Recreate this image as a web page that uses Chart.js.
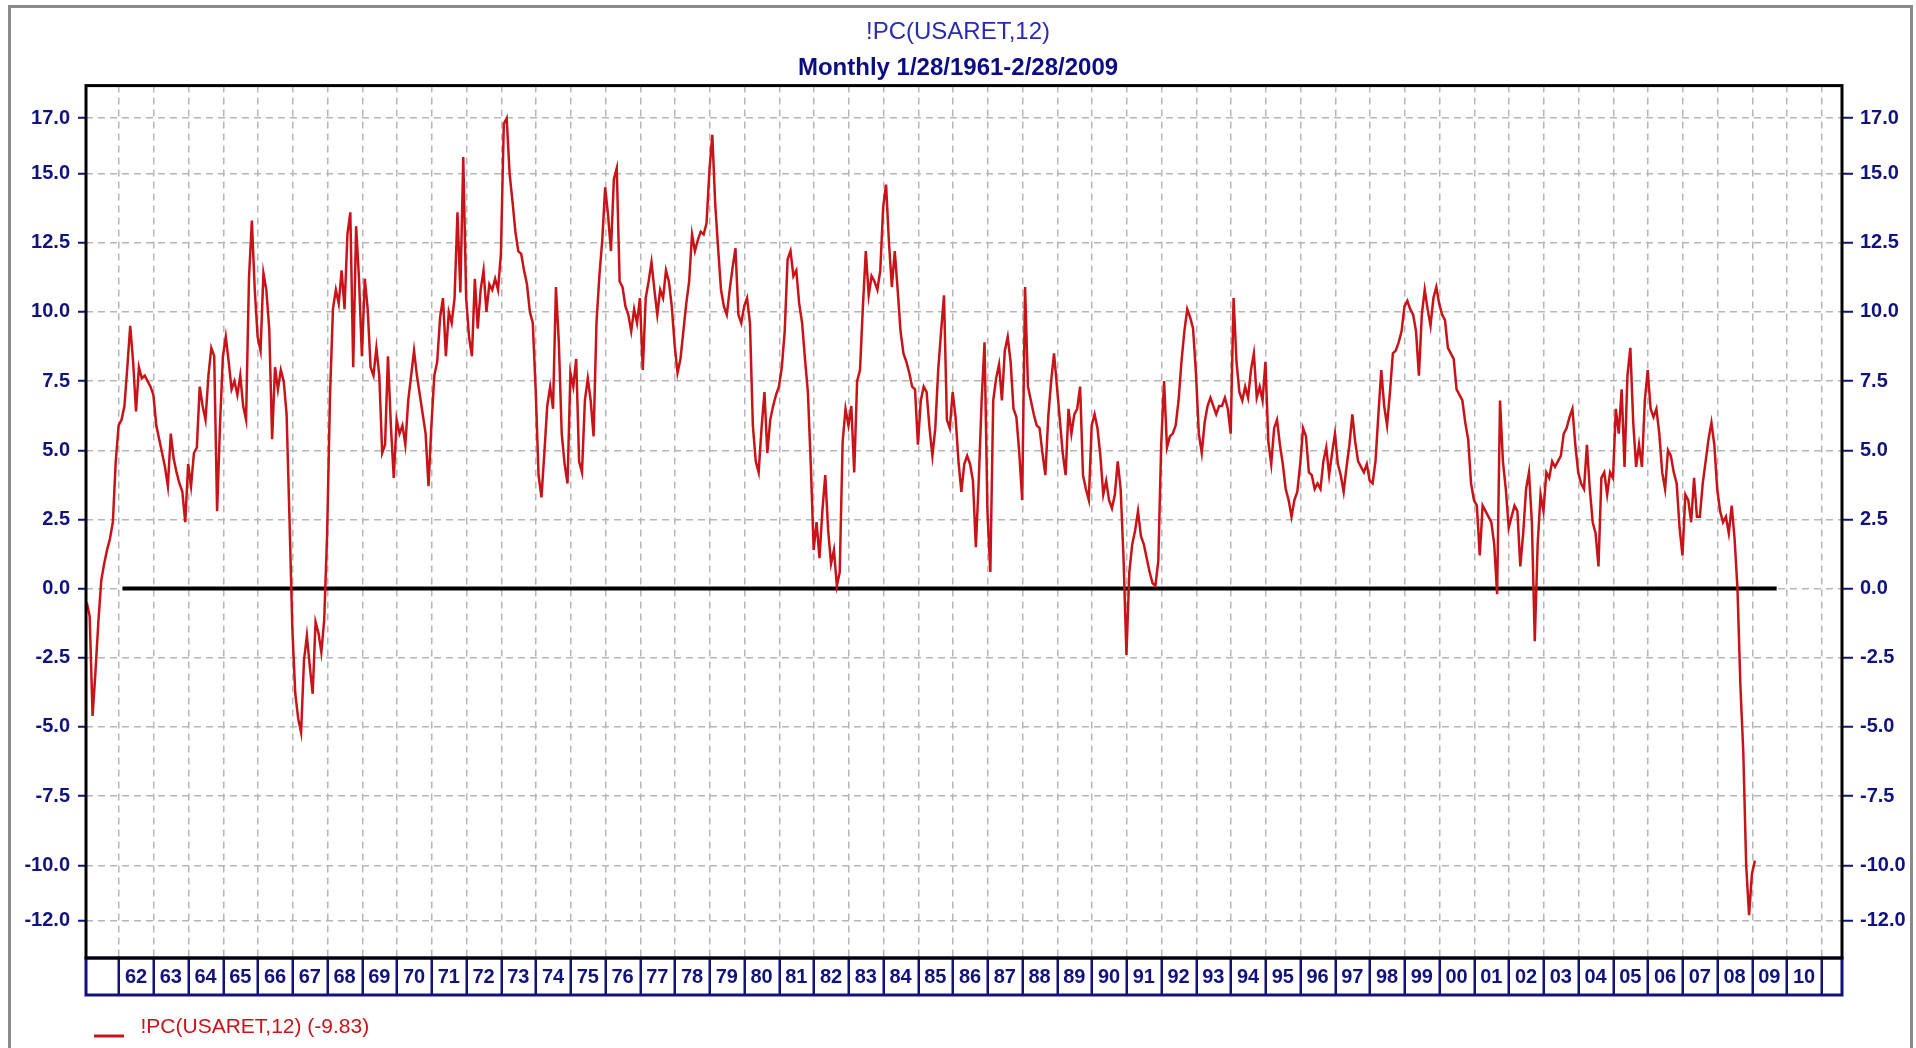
<!DOCTYPE html>
<html>
<head>
<meta charset="utf-8">
<title>!PC(USARET,12)</title>
<script src="https://cdn.jsdelivr.net/npm/chart.js@4.4.1/dist/chart.umd.min.js"></script>
<style>
  html, body { margin: 0; padding: 0; background: #fff; overflow: hidden; }
  #wrap { position: relative; width: 1916px; height: 1048px; }
</style>
</head>
<body>
<div id="wrap"><canvas id="chart" width="1916" height="1048"></canvas></div>
<script>
// ─── DONNÉES ──────────────────────────────────────────────────────────────
const seriesName = '!PC(USARET,12)';
const lastValue = -9.83;
const startYear = 1961;   // premier point : 28 janvier 1961, puis mensuel
const startDay = 28;

// variation sur 12 mois (%), un point par mois
const pct1960s = [
  -0.5, -1.0, -4.6, -3.0, -1.2, 0.3, 0.9, 1.4, 1.8, 2.4, 4.6, 5.9,
  6.1, 6.6, 8.0, 9.5, 8.2, 6.4, 8.0, 7.6, 7.7, 7.5, 7.3, 7.0,
  5.9, 5.4, 4.9, 4.4, 3.7, 5.6, 4.7, 4.2, 3.8, 3.5, 2.4, 4.5,
  3.7, 4.9, 5.1, 7.3, 6.6, 6.1, 7.7, 8.7, 8.4, 2.8, 5.9, 8.4,
  9.1, 8.2, 7.2, 7.5, 7.0, 7.7, 6.6, 6.1, 11.2, 13.3, 10.8, 9.1,
  8.6, 11.4, 10.8, 9.4, 5.4, 8.0, 7.2, 7.9, 7.5, 6.3, 2.5, -1.5,
  -3.8, -4.7, -5.2, -2.6, -1.7, -2.8, -3.8, -1.2, -1.6, -2.3, -1.1, 2.0,
  7.0, 10.1, 10.8, 10.3, 11.5, 10.1, 12.8, 13.6, 8.0, 13.1, 11.2, 8.4,
  11.2, 10.1, 8.0, 7.7, 8.7, 7.7, 4.9, 5.2, 8.4, 5.9, 4.0, 6.1
];
const pct1970s = [
  5.6, 5.9, 5.2, 6.8, 7.7, 8.6, 7.7, 7.0, 6.3, 5.6, 3.7, 5.9,
  7.7, 8.2, 9.8, 10.5, 8.4, 10.0, 9.6, 10.5, 13.6, 10.7, 15.6, 10.5,
  9.1, 8.4, 11.2, 9.4, 10.8, 11.5, 10.0, 11.0, 10.8, 11.2, 10.8, 12.1,
  16.8, 17.0, 15.0, 14.0, 12.9, 12.2, 12.1, 11.5, 11.0, 10.0, 9.6, 7.2,
  4.1, 3.3, 4.9, 6.6, 7.3, 6.5, 10.9, 8.9, 5.6, 4.5, 3.8, 7.8,
  7.3, 8.3, 4.6, 4.2, 6.8, 7.6, 6.8, 5.5, 9.6, 11.3, 12.6, 14.5,
  13.5, 12.2, 14.8, 15.2, 11.1, 10.9, 10.2, 9.9, 9.3, 10.1, 9.6, 10.5,
  7.9, 10.5, 11.1, 11.8, 10.8, 9.9, 10.8, 10.5, 11.5, 11.1, 10.2, 8.8,
  7.8, 8.3, 9.3, 10.3, 11.1, 12.8, 12.2, 12.6, 12.9, 12.8, 13.2, 15.1,
  16.4, 13.9, 12.3, 10.8, 10.2, 9.9, 10.8, 11.6, 12.3, 9.9, 9.6, 10.2
];
const pct1980s = [
  10.5, 9.6, 5.9, 4.6, 4.2, 5.8, 7.1, 4.9, 6.1, 6.6, 7.0, 7.3,
  8.0, 9.3, 11.9, 12.2, 11.3, 11.5, 10.3, 9.6, 8.3, 7.1, 4.5, 1.4,
  2.4, 1.1, 2.8, 4.1, 2.1, 0.9, 1.4, 0.1, 0.6, 5.3, 6.5, 5.9,
  6.6, 4.2, 7.5, 7.9, 10.2, 12.2, 10.6, 11.3, 11.1, 10.8, 11.5, 13.8,
  14.6, 12.5, 10.9, 12.2, 10.8, 9.3, 8.5, 8.2, 7.8, 7.3, 7.2, 5.2,
  6.8, 7.3, 7.1, 5.8, 4.8, 5.8, 7.9, 9.3, 10.6, 6.1, 5.8, 7.1,
  6.2, 4.6, 3.5, 4.5, 4.8, 4.5, 3.9, 1.5, 3.9, 6.8, 8.9, 2.8,
  0.6, 6.8, 7.6, 8.1, 6.8, 8.6, 9.1, 8.2, 6.5, 6.2, 4.9, 3.2,
  10.9, 7.3, 6.8, 6.3, 5.9, 5.8, 4.9, 4.1, 6.2, 7.5, 8.5, 7.3,
  6.1, 4.9, 4.1, 6.5, 5.6, 6.3, 6.5, 7.3, 4.1, 3.6, 3.2, 5.9
];
const pct1990s = [
  6.3, 5.8, 4.8, 3.4, 3.9, 3.2, 2.9, 3.4, 4.6, 3.6, 1.1, -2.4,
  0.6, 1.6, 2.1, 2.8, 1.9, 1.6, 1.1, 0.6, 0.2, 0.1, 1.0, 5.2,
  7.5, 5.1, 5.5, 5.6, 5.9, 6.8, 8.2, 9.3, 10.1, 9.8, 9.4, 7.8,
  5.6, 4.9, 6.0, 6.6, 6.9, 6.6, 6.3, 6.6, 6.6, 6.9, 6.5, 5.6,
  10.5, 8.2, 7.1, 6.8, 7.3, 6.9, 7.9, 8.5, 6.9, 7.3, 6.8, 8.2,
  5.3, 4.5, 5.8, 6.1, 5.2, 4.5, 3.6, 3.2, 2.6, 3.2, 3.5, 4.5,
  5.8, 5.5, 4.2, 4.1, 3.6, 3.8, 3.6, 4.6, 5.1, 4.1, 4.9, 5.6,
  4.5, 4.1, 3.5, 4.4, 5.2, 6.3, 5.3, 4.6, 4.4, 4.2, 4.5, 3.9,
  3.8, 4.6, 6.3, 7.9, 6.6, 5.9, 7.1, 8.5, 8.6, 8.9, 9.3, 10.2,
  10.4, 10.1, 9.9, 9.3, 7.7, 9.9, 10.8, 10.1, 9.5, 10.5, 10.9, 10.3
];
const pct2000s = [
  9.9, 9.7, 8.7, 8.5, 8.3, 7.2, 7.0, 6.8, 6.0, 5.4, 3.8, 3.2,
  3.0, 1.2, 3.0, 2.8, 2.6, 2.4, 1.6, -0.2, 6.8, 4.6, 3.6, 2.2,
  2.6, 3.0, 2.8, 0.8, 2.0, 3.6, 4.2, 2.4, -1.9, 1.6, 3.4, 2.8,
  4.2, 4.0, 4.6, 4.4, 4.6, 4.8, 5.6, 5.8, 6.2, 6.5, 5.2, 4.2,
  3.8, 3.6, 5.2, 3.6, 2.4, 2.0, 0.8, 4.0, 4.2, 3.4, 4.2, 4.0,
  6.5, 5.6, 7.2, 4.4, 7.7, 8.7, 6.0, 4.4, 5.2, 4.4, 6.8, 7.9,
  6.5, 6.2, 6.5, 5.6, 4.2, 3.6, 5.0, 4.8, 4.2, 3.8, 2.2, 1.2,
  3.4, 3.2, 2.4, 4.0, 2.6, 2.6, 3.8, 4.6, 5.4, 6.0, 5.2, 3.6,
  2.8, 2.4, 2.6, 2.0, 3.0, 1.8, 0.0, -3.5, -5.9, -10.0, -11.8, -10.3,
  -9.83
];

// ligne de référence à zéro (début / fin, en années)
const zeroLineSpan = [1962.1, 2009.7];

// graduations
const yTicks = [17.0, 15.0, 12.5, 10.0, 7.5, 5.0, 2.5, 0.0, -2.5, -5.0, -7.5, -10.0, -12.0];
const firstLabelYear = 1962;
const yearLabels = [
  '62', '63', '64', '65', '66', '67', '68', '69', '70', '71', '72', '73', '74',
  '75', '76', '77', '78', '79', '80', '81', '82', '83', '84', '85', '86', '87',
  '88', '89', '90', '91', '92', '93', '94', '95', '96', '97', '98', '99', '00',
  '01', '02', '03', '04', '05', '06', '07', '08', '09', '10'
];

// ─── MISE EN FORME ────────────────────────────────────────────────────────
const FONT = "'Liberation Sans', Arial, sans-serif";
const NAVY = '#12127e';
const GRID = '#b6b6b6';
const RED = '#c81418';

const allPct = [...pct1960s, ...pct1970s, ...pct1980s, ...pct1990s, ...pct2000s];
const dayFrac = (startDay - 1) / 31;
const points = allPct.map((v, i) => ({ x: startYear + (i + dayFrac) / 12, y: v }));
const zeroPoints = zeroLineSpan.map(x => ({ x, y: 0 }));

const yearTickValues = yearLabels.map((_, i) => firstLabelYear + i)
  .concat([firstLabelYear + yearLabels.length]);

// trait de légende posé sous le milieu du texte
const legendMark = document.createElement('canvas');
legendMark.width = 36;
legendMark.height = 24;
(() => {
  const c = legendMark.getContext('2d');
  c.fillStyle = RED;
  c.fillRect(0, 19, 30, 3);
})();

const framePlugin = {
  id: 'frame',
  beforeDraw(chart) {
    const { ctx, width, height } = chart;
    ctx.save();
    ctx.fillStyle = '#fff';
    ctx.fillRect(0, 0, width, height);
    ctx.strokeStyle = '#8a8a8a';
    ctx.lineWidth = 3;
    ctx.beginPath();
    ctx.moveTo(9.5, height + 5);
    ctx.lineTo(9.5, 6.5);
    ctx.lineTo(1911.5, 6.5);
    ctx.lineTo(1911.5, height + 5);
    ctx.stroke();
    ctx.restore();
  },
  afterDraw(chart) {
    const { ctx, chartArea: a } = chart;
    ctx.save();
    // cases des années
    ctx.strokeStyle = NAVY;
    ctx.lineWidth = 3;
    ctx.strokeRect(a.left, a.bottom, a.right - a.left, 37);
    // cadre du tracé
    ctx.strokeStyle = '#000';
    ctx.lineWidth = 3;
    ctx.strokeRect(a.left, a.top, a.right - a.left, a.bottom - a.top);
    ctx.restore();
  }
};

const yAxis = (position, width) => ({
  type: 'linear',
  position,
  min: -13.35,
  max: 18.18,
  afterBuildTicks: s => { s.ticks = yTicks.map(v => ({ value: v })); },
  afterFit: s => { s.width = width; },
  ticks: {
    color: NAVY,
    font: { family: FONT, size: 20, weight: 'bold' },
    padding: position === 'left' ? 8 : 7,
    callback: v => Number(v).toFixed(1)
  },
  grid: {
    color: GRID,
    lineWidth: 1.5,
    drawOnChartArea: position === 'left',
    tickLength: position === 'left' ? 8 : 11,
    tickColor: NAVY,
    tickWidth: 2,
    tickBorderDash: []
  },
  border: { display: false, dash: [7, 5] }
});

new Chart(document.getElementById('chart'), {
  type: 'line',
  data: {
    datasets: [
      {
        label: `${seriesName} (${lastValue.toFixed(2)})`,
        data: points,
        borderColor: RED,
        backgroundColor: RED,
        borderWidth: 2.5,
        pointRadius: 0,
        tension: 0
      },
      {
        label: 'zero',
        data: zeroPoints,
        borderColor: '#000',
        backgroundColor: '#000',
        borderWidth: 4,
        pointRadius: 0
      }
    ]
  },
  options: {
    responsive: false,
    animation: false,
    events: [],
    layout: { padding: 0 },
    scales: {
      x: {
        type: 'linear',
        position: 'bottom',
        min: 1961.05,
        max: 2011.58,
        afterBuildTicks: s => { s.ticks = yearTickValues.map(v => ({ value: v })); },
        afterFit: s => { s.height = 51; },
        ticks: {
          autoSkip: false,
          maxRotation: 0,
          minRotation: 0,
          padding: -30,
          labelOffset: 17,
          color: NAVY,
          font: { family: FONT, size: 20, weight: 'bold' },
          callback: (v, i) => yearLabels[i] ?? ''
        },
        grid: {
          color: GRID,
          lineWidth: 1.5,
          tickLength: 37,
          tickColor: NAVY,
          tickWidth: 2.5,
          tickBorderDash: []
        },
        border: { display: false, dash: [7, 5] }
      },
      y: yAxis('left', 86),
      y2: yAxis('right', 74)
    },
    plugins: {
      title: {
        display: true,
        text: seriesName,
        color: '#2a2ab2',
        font: { family: FONT, size: 24, weight: 'normal' },
        padding: { top: 18, bottom: 4 }
      },
      subtitle: {
        display: true,
        text: 'Monthly 1/28/1961-2/28/2009',
        color: '#0c0c84',
        font: { family: FONT, size: 24, weight: 'bold' },
        padding: { top: 3, bottom: 3 }
      },
      legend: {
        display: true,
        position: 'bottom',
        align: 'start',
        fullSize: false,
        labels: {
          color: RED,
          font: { family: FONT, size: 21 },
          usePointStyle: true,
          pointStyle: legendMark,
          pointStyleWidth: 36,
          padding: 8,
          filter: item => item.datasetIndex === 0
        }
      },
      tooltip: { enabled: false }
    }
  },
  plugins: [framePlugin]
});
</script>
</body>
</html>
